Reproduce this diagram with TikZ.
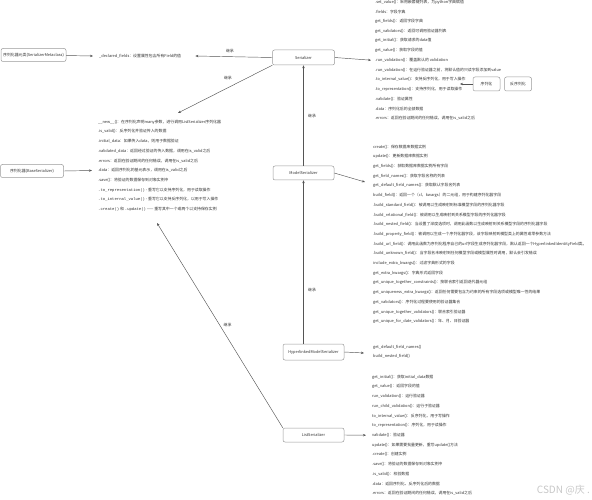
\documentclass[tikz,border=0pt]{standalone}
\usepackage{fontspec}
\setmainfont{Noto Sans CJK SC}
\setmonofont{Liberation Mono}
\usetikzlibrary{arrows.meta,positioning}
\definecolor{ink}{HTML}{333333}
\definecolor{wire}{HTML}{555555}
\definecolor{rim}{HTML}{9A9A9A}
\tikzset{
  item/.style={anchor=west,inner sep=0pt,text=ink,font=\fontsize{3.9}{4.5}\selectfont},
  row/.style={item,below=of #1.west,anchor=west},
  cls/.style={rectangle,rounded corners=2pt,draw=rim,line width=0.5pt,fill=white,text=ink,align=center,inner sep=1pt,font=\fontsize{3.9}{4.5}\selectfont},
  arrow/.style={-{Stealth[length=3pt,width=2.4pt]},line width=0.45pt,wire},
  tag/.style={font=\fontsize{3.9}{4.5}\selectfont,text=ink,inner sep=0.5pt}
}

\begin{document}
\begin{tikzpicture}[x=1pt,y=-1pt,node distance=9.7pt]
    \useasboundingbox (0,0) rectangle (592,500);
    \node[cls,minimum width=65pt,minimum height=13pt] (meta) at (33.5,55) {序列化器元类(SerializerMetaclass)};
    \node[item] (decl) at (99,56) {\_declared\_fields：设置属性包含所有Field的值};
    \node[cls,minimum width=62pt,minimum height=15pt] (ser) at (303.5,57.5) {Serializer};
    \node[cls,minimum width=63pt,minimum height=13pt] (base) at (32,171) {序列化器(BaseSerializer)};
    \node[cls,minimum width=61pt,minimum height=14pt] (model) at (303.5,173) {ModelSerializer};
    \node[cls,minimum width=61pt,minimum height=16pt] (hyper) at (313.5,352) {HyperlinkedModelSerializer};
    \node[cls,minimum width=61pt,minimum height=14pt] (list) at (313.5,435) {ListSerializer};
    \node[cls,minimum width=27pt,minimum height=14pt] (xu) at (486.5,84) {序列化};
    \node[cls,minimum width=27pt,minimum height=14pt,right=4pt of xu] (fan) {反序列化};

    \node[item] (s1) at (375,2) {.set\_value()：采用嵌套键列表，为python字典赋值};
    \node[row=s1] (s2) {.fields：字段字典};
    \node[row=s2] (s3) {get\_fields()：返回字段字典};
    \node[row=s3] (s4) {get\_validators()：返回可调用验证器列表};
    \node[row=s4] (s5) {get\_initial()：获取请求的data值};
    \node[row=s5] (s6) {get\_value()：获取字段的值};
    \node[row=s6] (s7) {.run\_validation()：覆盖默认的 validation};
    \node[row=s7] (s8) {.run\_validation()：在运行验证器之前，将默认值的只读字段添加到value};
    \node[row=s8] (s9) {.to\_internal\_value()：支持反序列化，用于写入操作};
    \node[row=s9] (s10) {.to\_representation()：支持序列化，用于读取操作};
    \node[row=s10] (s11) {.validate()：验证属性};
    \node[row=s11] (s12) {.data：序列化后的全部数据};
    \node[row=s12] (s13) {.errors：返回在验证期间的任何错误，调用在is\_valid之后};

    \node[item] (b1) at (98,122) {\_\_new\_\_()：在序列化声明many参数，进行调用ListSerializer序列化器};
    \node[row=b1] (b2) {.is\_valid()：反序列化并验证传入的数据};
    \node[row=b2] (b3) {.initial\_data：如果传入data，则用于数据验证};
    \node[row=b3] (b4) {.validated\_data：返回经过验证的传入数据，调用在is\_valid之后};
    \node[row=b4] (b5) {.errors：返回在验证期间的任何错误，调用在is\_valid之后};
    \node[row=b5] (b6) {.data：返回序列化的基元表示，调用在is\_valid之后};
    \node[row=b6] (b7) {.save()：将验证的数据保存到对象实例中};
    \node[row=b7] (b8) {\texttt{.to\_representation()} - 重写它以支持序列化，用于读取操作};
    \node[row=b8] (b9) {\texttt{.to\_internal\_value()} - 重写它以支持反序列化，以用于写入操作};
    \node[row=b9] (b10) {\texttt{.create()} 和 \texttt{.update()} —— 重写其中一个或两个以支持保存实例};

    \node[item] (m1) at (373,147) {create()：保存数据库数据实例};
    \node[row=m1] (m2) {update()：更新数据库数据实例};
    \node[row=m2] (m3) {get\_fields()：获取数据库数据实例所有字段};
    \node[row=m3] (m4) {get\_field\_names()：获取字段名称的列表};
    \node[row=m4] (m5) {get\_default\_field\_names()：获取默认字段名列表};
    \node[row=m5] (m6) {build\_field()：返回一个（cl，kwargs）的二元组，用于构建序列化器字段};
    \node[row=m6] (m7) {.build\_standard\_field()：被调用以生成映射到标准模型字段的序列化器字段};
    \node[row=m7] (m8) {.build\_relational\_field()：被调用以生成映射到关系模型字段的序列化器字段};
    \node[row=m8] (m9) {.build\_nested\_field()：当设置了深度选项时，调用此函数以生成映射到关系模型字段的序列化器字段};
    \node[row=m9] (m10) {.build\_property\_field()：被调用以生成一个序列化器字段，该字段映射到模型类上的属性或零参数方法};
    \node[row=m10] (m11) {.build\_url\_field()：调用此函数为序列化程序自己的url字段生成序列化器字段，默认返回一个HyperlinkedIdentityField类。};
    \node[row=m11] (m12) {.build\_unknown\_field()：当字段名未映射到任何模型字段或模型属性时调用，默认会引发错误};
    \node[row=m12] (m13) {include\_extra\_kwargs()：过滤字典形式的字段};
    \node[row=m13] (m14) {get\_extra\_kwargs()：字典形式返回字段};
    \node[row=m14] (m15) {get\_unique\_together\_constraints()：按联合索引返回迭代器元组};
    \node[row=m15] (m16) {get\_uniqueness\_extra\_kwargs()：返回任何需要包含为约束的所有字段选项或模型唯一性的结果};
    \node[row=m16] (m17) {get\_validators()：序列化过程要使用的验证器集合};
    \node[row=m17] (m18) {get\_unique\_together\_validators()：联合索引验证器};
    \node[row=m18] (m19) {get\_unique\_for\_date\_validators()：年、月、日验证器};

    \node[item] (h1) at (373,347) {get\_default\_field\_names()};
    \node[row=h1] (h2) {build\_nested\_field()};

    \node[item] (l1) at (372,377) {get\_initial()：获取initial\_data数据};
    \node[row=l1] (l2) {get\_value()：返回字段的值};
    \node[row=l2] (l3) {run\_validation()：运行验证器};
    \node[row=l3] (l4) {run\_child\_validation()：运行子验证器};
    \node[row=l4] (l5) {to\_internal\_value()：反序列化，用于写操作};
    \node[row=l5] (l6) {to\_representation()：序列化，用于读操作};
    \node[row=l6] (l7) {validate()：验证器};
    \node[row=l7] (l8) {update()：如果需要批量更新，重写update()方法};
    \node[row=l8] (l9) {.create()：创建实例};
    \node[row=l9] (l10) {.save()：将验证的数据保存到对象实例中};
    \node[row=l10] (l11) {.is\_valid()：校验数据};
    \node[row=l11] (l12) {.data：返回序列化、反序列化后的数据};
    \node[row=l12] (l13) {.errors：返回在验证期间的任何错误，调用在is\_valid之后};

    \node[anchor=east,inner sep=0pt,text=black!22,font=\fontsize{10}{12}\selectfont] (mark) at (590,490) {CSDN @庆 .};

    \coordinate (basetop) at (178,113);
    \coordinate (basebot) at (157,223);
    \coordinate (mtip) at (365,182);
    \coordinate (htip) at (364,353);
    \coordinate (xutip) at (460,84);

    \draw[arrow] (meta) -- ([xshift=-6pt]decl.west);
    \draw[arrow] (ser.west) -- ([xshift=14pt]decl.east) node[tag,pos=0.55,above=3pt] {继承};
    \draw[arrow] (ser.south west) -- (basetop) node[tag,pos=0.47,above=7pt] {继承};
    \draw[arrow] (ser.east) -- ([xshift=-4pt]s7.west);
    \draw[arrow] (xu.west) -- (xutip);
    \draw[arrow] (base.east) -- ([xshift=-6pt]b6.west);
    \draw[arrow] (model.north) -- (ser.south) node[tag,midway,right=4pt] {继承};
    \draw[arrow] (model.east) -- (mtip);
    \draw[arrow] (hyper.north -| model.south) -- (model.south) node[tag,pos=0.33,right=4pt] {继承};
    \draw[arrow] (hyper.east) -- (htip);
    \draw[arrow] (list.north west) -- (basebot) node[tag,midway,right=3pt] {继承};
    \draw[arrow] (list.east) -- ([xshift=-6pt]l7.west);
  \end{tikzpicture}
\end{document}
